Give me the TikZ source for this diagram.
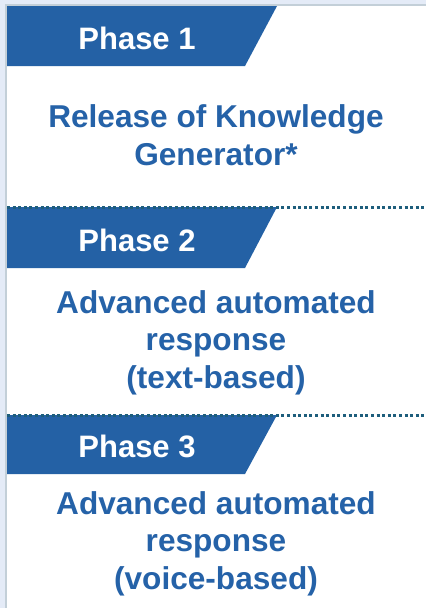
\documentclass[tikz,border=0pt]{standalone}
\usepackage{fontspec}
\setmainfont{Liberation Sans}
\definecolor{bgblue}{HTML}{E4EBF7}
\definecolor{edgegray}{HTML}{C3CFD8}
\definecolor{bannerblue}{HTML}{2461A5}
\definecolor{textblue}{HTML}{2562A8}
\definecolor{dotteal}{HTML}{1E5E7C}
\tikzset{
  banner/.style={fill=bannerblue, draw=none},
  phasetext/.style={anchor=base, text=white, font=\fontsize{31}{37.5}\selectfont\bfseries, inner sep=0pt},
  bodytext/.style={anchor=base, text=textblue, font=\fontsize{31.6}{37.5}\selectfont\bfseries, align=center, inner sep=0pt},
  divider/.style={draw=dotteal, line width=3pt, dash pattern=on 3pt off 2.6pt}
}
\begin{document}
\begin{tikzpicture}[x=1pt,y=-1pt]
\useasboundingbox (0,0) rectangle (426,608);
\fill[bgblue] (0,0) rectangle (426,608);
\fill[white] (7,6) rectangle (426,608);
\draw[edgegray, line width=1.6pt] (6.2,608) -- (6.2,5.2) -- (426,5.2);
% banners
\fill[banner] (7,6) -- (277,6) -- (245,66) -- (7,66) -- cycle;
\fill[banner] (7,207) -- (277,207) -- (245,268) -- (7,268) -- cycle;
\fill[banner] (7,415) -- (277,415) -- (245,474) -- (7,474) -- cycle;
% dividers
\coordinate (d1a) at (7,207.5);
\coordinate (d1b) at (426,207.5);
\coordinate (d2a) at (7,415.5);
\coordinate (d2b) at (426,415.5);
\draw[divider] (d1a) -- (d1b);
\draw[divider] (d2a) -- (d2b);
% phase labels
\node[phasetext] (p1) at (137,49.3) {Phase 1};
\node[phasetext] (p2) at (137,251) {Phase 2};
\node[phasetext] (p3) at (137,457.3) {Phase 3};
% bodies (base anchor = last line's baseline)
\node[bodytext] (b1) at (216,165) {Release of Knowledge\\Generator*};
\node[bodytext] (b2) at (216,388) {Advanced automated\\response\\(text-based)};
\node[bodytext] (b3) at (216,589) {Advanced automated\\response\\(voice-based)};
\end{tikzpicture}
\end{document}
